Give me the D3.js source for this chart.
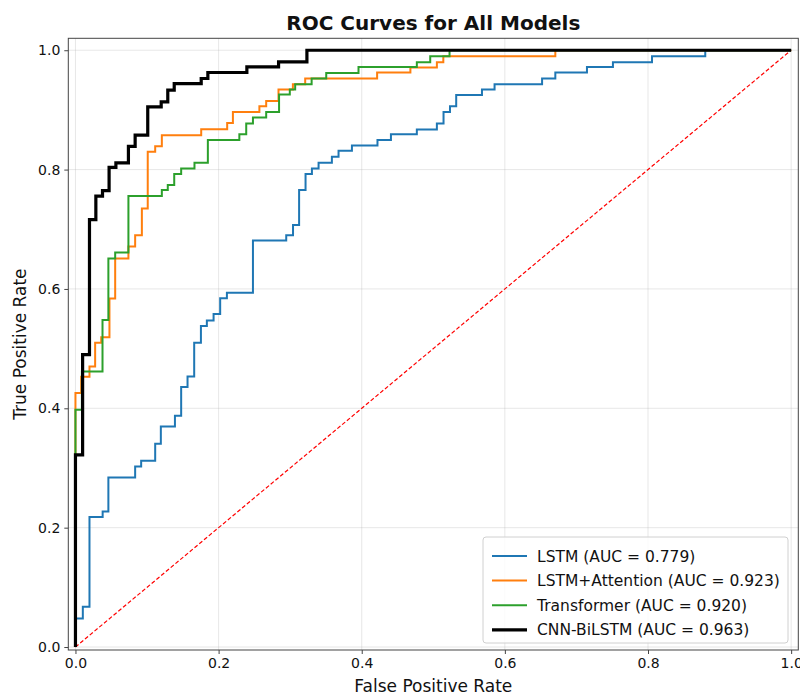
<!DOCTYPE html>
<html>
<head>
<meta charset="utf-8">
<script src="https://cdn.jsdelivr.net/npm/d3@7"></script>
<style>
  body{margin:0;background:#fff;}
  svg{display:block;font-family:"DejaVu Sans",sans-serif;}
</style>
</head>
<body>
<svg id="chart" width="800" height="696"></svg>
<script>
// roc points, each one is where a horizontal run starts (fpr, tpr level)
var lstmFpr=[0,0,0.0103,0.0196,0.038,0.046,0.0834,0.0918,0.1114,0.1193,0.139,0.1477,0.1566,0.1659,0.1753,0.1836,0.193,0.2022,0.2116,0.248,0.2945,0.304,0.3125,0.3215,0.3304,0.3397,0.3583,0.3676,0.3863,0.422,0.4408,0.477,0.505,0.5143,0.5233,0.532,0.568,0.5856,0.652,0.6705,0.7147,0.751,0.8056,0.880,1];
var lstmTpr=[0,0.0477,0.0673,0.218,0.227,0.284,0.3026,0.312,0.3406,0.3696,0.3875,0.4355,0.4533,0.510,0.538,0.547,0.558,0.5844,0.5938,0.681,0.690,0.707,0.766,0.7925,0.802,0.8114,0.8214,0.8315,0.8405,0.8494,0.8594,0.8673,0.8773,0.8967,0.906,0.925,0.934,0.943,0.9526,0.9627,0.972,0.980,0.990,1,1];

var attnFpr=[0,0,0.008,0.0196,0.0275,0.036,0.0475,0.0555,0.074,0.0834,0.0928,0.101,0.1114,0.1207,0.1757,0.212,0.220,0.257,0.2665,0.2837,0.3038,0.321,0.4215,0.468,0.505,0.514,0.6705,1];
var attnTpr=[0,0.4255,0.453,0.470,0.510,0.519,0.584,0.651,0.671,0.690,0.735,0.830,0.839,0.8577,0.8678,0.878,0.8967,0.906,0.915,0.934,0.943,0.9526,0.9627,0.971,0.980,0.990,1,1];

var transFpr=[0,0,0.009,0.0378,0.046,0.0555,0.074,0.1207,0.129,0.138,0.1477,0.1663,0.185,0.229,0.2386,0.248,0.2665,0.2845,0.2995,0.307,0.330,0.3504,0.3955,0.477,0.4957,0.5227,1];
var transTpr=[0,0.3975,0.4616,0.548,0.651,0.661,0.7556,0.7657,0.774,0.7925,0.802,0.8114,0.8494,0.8594,0.8773,0.8874,0.8967,0.926,0.934,0.943,0.9526,0.962,0.972,0.980,0.990,1,1];

var cnnFpr=[0,0,0.010,0.0196,0.0285,0.0378,0.047,0.0565,0.074,0.0834,0.101,0.1198,0.129,0.138,0.1757,0.185,0.2395,0.2838,0.3234,1];
var cnnTpr=[0,0.322,0.49,0.716,0.7556,0.7646,0.8037,0.8114,0.839,0.8577,0.905,0.9135,0.933,0.944,0.9526,0.9627,0.972,0.9805,1,1];

var modelNames=['LSTM','LSTM+Attention','Transformer','CNN-BiLSTM'];
var modelAuc=['0.779','0.923','0.920','0.963'];
var modelColors=['#1f77b4','#ff7f0e','#2ca02c','#000000'];
var modelWidths=[2,2,2,3.2];
var tickValues=[0,0.2,0.4,0.6,0.8,1.0];

var models=[
  {fpr:lstmFpr,tpr:lstmTpr},
  {fpr:attnFpr,tpr:attnTpr},
  {fpr:transFpr,tpr:transTpr},
  {fpr:cnnFpr,tpr:cnnTpr}
];

var svg=d3.select('#chart');
// note: "top" is taken by window.top, so plot edges get their own names
var plotL=68.3, plotR=798.3, plotT=38.3, plotB=650;

var x=d3.scaleLinear().domain([-0.01,1.01]).range([plotL,plotR]);
var y=d3.scaleLinear().domain([-0.005,1.02]).range([plotB,plotT]);

// grid
var grid=svg.append('g');
tickValues.forEach(function(t){
  grid.append('line').attr('x1',x(t)).attr('x2',x(t)).attr('y1',plotT).attr('y2',plotB)
    .attr('stroke','#b0b0b0').attr('stroke-opacity',0.3).attr('stroke-width',1);
  grid.append('line').attr('x1',plotL).attr('x2',plotR).attr('y1',y(t)).attr('y2',y(t))
    .attr('stroke','#b0b0b0').attr('stroke-opacity',0.3).attr('stroke-width',1);
});

// the chance line
svg.append('line')
  .attr('x1',x(0)).attr('y1',y(0)).attr('x2',x(1)).attr('y2',y(1))
  .attr('stroke','red').attr('stroke-width',1.2).attr('stroke-dasharray','4,2.2');

var line=d3.line()
  .x(function(d){return x(d[0]);})
  .y(function(d){return y(d[1]);})
  .curve(d3.curveStepAfter);

models.forEach(function(m,i){
  var pts=m.fpr.map(function(f,j){return [f,m.tpr[j]];});
  svg.append('path')
    .datum(pts)
    .attr('d',line)
    .attr('fill','none')
    .attr('stroke',modelColors[i])
    .attr('stroke-width',modelWidths[i])
    .attr('stroke-linejoin','miter');
});

// axes
var xAxis=d3.axisBottom(x).tickValues(tickValues).tickFormat(d3.format('.1f')).tickSize(4).tickPadding(4);
var yAxis=d3.axisLeft(y).tickValues(tickValues).tickFormat(d3.format('.1f')).tickSize(4).tickPadding(4);
var gx=svg.append('g').attr('transform','translate(0,'+plotB+')').call(xAxis);
var gy=svg.append('g').attr('transform','translate('+plotL+',0)').call(yAxis);
[gx,gy].forEach(function(g){
  g.select('.domain').remove();
  g.selectAll('line').attr('stroke','#444');
  g.selectAll('text').attr('font-size','14px').attr('fill','#111').attr('font-family','"DejaVu Sans",sans-serif');
});

svg.append('rect').attr('x',plotL).attr('y',plotT).attr('width',plotR-plotL).attr('height',plotB-plotT)
  .attr('fill','none').attr('stroke','#444').attr('stroke-width',1);

// labels
svg.append('text').attr('x',(plotL+plotR)/2).attr('y',30).attr('text-anchor','middle')
  .attr('font-size','20px').attr('font-weight','bold').attr('fill','#111').text('ROC Curves for All Models');
svg.append('text').attr('x',(plotL+plotR)/2).attr('y',692).attr('text-anchor','middle')
  .attr('font-size','17px').attr('fill','#111').text('False Positive Rate');
svg.append('text').attr('transform','translate(26,'+((plotT+plotB)/2)+') rotate(-90)').attr('text-anchor','middle')
  .attr('font-size','17px').attr('fill','#111').text('True Positive Rate');

// legend
var lg=svg.append('g');
lg.append('rect').attr('x',483).attr('y',537).attr('width',305).attr('height',106).attr('rx',3)
  .attr('fill','#fff').attr('fill-opacity',0.8).attr('stroke','#d0d0d0');
modelNames.forEach(function(n,i){
  var ry=556+i*24.6;
  lg.append('line').attr('x1',492).attr('x2',527).attr('y1',ry).attr('y2',ry)
    .attr('stroke',modelColors[i]).attr('stroke-width',modelWidths[i]);
  lg.append('text').attr('x',537).attr('y',ry+5.5).attr('font-size','15.5px').attr('fill','#111')
    .text(n+' (AUC = '+modelAuc[i]+')');
});
</script>
</body>
</html>
